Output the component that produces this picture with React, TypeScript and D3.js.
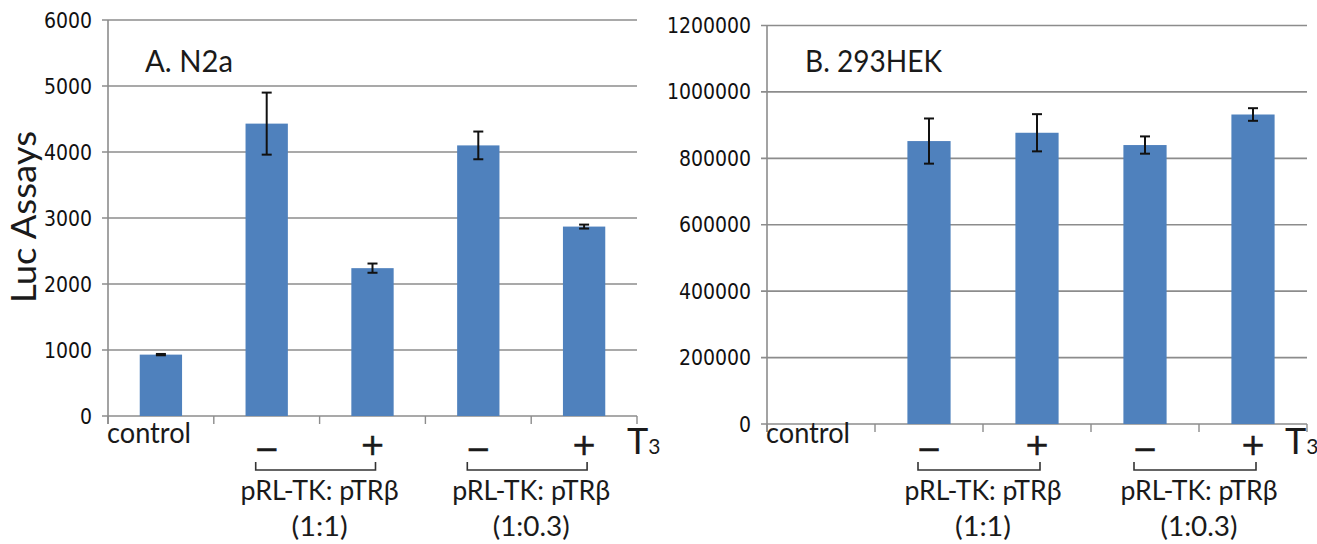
import React from "react";
import * as d3 from "d3";

// ---------- data ----------
const categories = ["control", "−", "+", "−", "+"];
const n2aValues = [930, 4430, 2240, 4100, 2870];
const n2aErrors = [10, 470, 70, 210, 30];
const n2aTicks = [0, 1000, 2000, 3000, 4000, 5000, 6000];

const hekValues = [0, 852000, 877000, 840000, 932000];
const hekErrors = [0, 68000, 56000, 26000, 19000];
const hekTicks = [0, 200000, 400000, 600000, 800000, 1000000, 1200000];

const groupLabels = ["pRL-TK: pTRβ", "pRL-TK: pTRβ"];
const ratioLabels = ["(1:1)", "(1:0.3)"];
const groupMembers = [[1, 2], [3, 4]];

const BAR = "#4f81bd";
const GRID = "#8c8c8c";
const TEXT = "#1a1a1a";
const FONT = "Lato, 'Open Sans', sans-serif";
const NARROW = "'Liberation Sans Narrow', 'DejaVu Sans Condensed', sans-serif";
const SIGN = "'DejaVu Sans', sans-serif";

type PanelProps = {
  title: string;
  values: number[];
  errors: number[];
  ticks: number[];
  x0: number;
  x1: number;
  y0: number;
  y1: number;
  titleX: number;
  titleLen: number;
  tX: number;
  groupTextLen: number[];
  ratioLen: number[];
};

function Panel(p: PanelProps) {
  const x = d3
    .scaleBand<string>()
    .domain(categories.map((c, i) => i + ""))
    .range([p.x0, p.x1])
    .paddingInner(0.6)
    .paddingOuter(0.3);
  const step = (p.x1 - p.x0) / categories.length;
  const y = d3
    .scaleLinear()
    .domain([0, p.ticks[p.ticks.length - 1]])
    .range([p.y0, p.y1]);
  const cx = (i: number) => (x(i + "") as number) + x.bandwidth() / 2;
  const boundaries = d3.range(categories.length + 1).map((i) => p.x0 + i * step);

  return (
    <g>
      {p.ticks.map((t) => (
        <line
          key={"g" + t}
          x1={p.x0 - 6}
          x2={p.x1}
          y1={y(t)}
          y2={y(t)}
          stroke={GRID}
          strokeWidth={1.6}
        />
      ))}
      <line x1={p.x0} x2={p.x0} y1={y(p.ticks[p.ticks.length - 1])} y2={p.y0 + 8} stroke={GRID} strokeWidth={1.6} />
      {boundaries.map((b, i) => (
        <line key={"b" + i} x1={b} x2={b} y1={p.y0} y2={p.y0 + 8} stroke={GRID} strokeWidth={1.4} />
      ))}
      {p.ticks.map((t) => (
        <text
          key={"t" + t}
          x={p.x0 - 16}
          y={y(t)}
          dy="0.36em"
          textAnchor="end"
          fontFamily={NARROW}
          fontSize={21}
          fill="#111"
        >
          {t}
        </text>
      ))}
      {p.values.map((v, i) =>
        v > 0 ? (
          <rect
            key={"r" + i}
            x={x(i + "")}
            y={y(v)}
            width={x.bandwidth()}
            height={p.y0 - y(v)}
            fill={BAR}
          />
        ) : null
      )}
      {p.values.map((v, i) =>
        p.errors[i] > 0 ? (
          <g key={"e" + i} stroke="#111" strokeWidth={2}>
            <line x1={cx(i)} x2={cx(i)} y1={y(v + p.errors[i])} y2={y(v - p.errors[i])} />
            <line x1={cx(i) - 5} x2={cx(i) + 5} y1={y(v + p.errors[i])} y2={y(v + p.errors[i])} />
            <line x1={cx(i) - 5} x2={cx(i) + 5} y1={y(v - p.errors[i])} y2={y(v - p.errors[i])} />
          </g>
        ) : null
      )}
      <text x={p.titleX} y={72} fontFamily={FONT} fontSize={31} fill={TEXT} textLength={p.titleLen} lengthAdjust="spacingAndGlyphs">
        {p.title}
      </text>
      <text x={p.x0 - 1} y={443} fontFamily={FONT} fontSize={28} fill={TEXT} textLength={84} lengthAdjust="spacingAndGlyphs">
        {categories[0]}
      </text>
      {categories.slice(1).map((c, k) => (
        <text
          key={"c" + k}
          x={cx(k + 1)}
          y={c === "+" ? 455 : 459}
          textAnchor="middle"
          fontFamily={SIGN}
          fontSize={30}
          fill={TEXT}
          stroke={TEXT}
          strokeWidth={0.6}
        >
          {c}
        </text>
      ))}
      <text x={p.tX} y={454} fill={TEXT} fontFamily={FONT}>
        <tspan fontSize={36}>T</tspan>
        <tspan fontSize={21}>3</tspan>
      </text>
      {groupMembers.map((g, k) => {
        const a = cx(g[0]) - 11;
        const b = cx(g[1]) + 3;
        const mid = (cx(g[0]) + cx(g[1])) / 2;
        return (
          <g key={"br" + k}>
            <path
              d={`M${a},462 L${a},470 L${b},470 L${b},462`}
              fill="none"
              stroke="#333"
              strokeWidth={1.6}
            />
            <text
              x={mid}
              y={500}
              textAnchor="middle"
              fontFamily={FONT}
              fontSize={27}
              fill={TEXT}
              textLength={p.groupTextLen[k]}
              lengthAdjust="spacingAndGlyphs"
            >
              {groupLabels[k]}
            </text>
            <text
              x={mid}
              y={536}
              textAnchor="middle"
              fontFamily={FONT}
              fontSize={27}
              fill={TEXT}
              textLength={p.ratioLen[k]}
              lengthAdjust="spacingAndGlyphs"
            >
              {ratioLabels[k]}
            </text>
          </g>
        );
      })}
    </g>
  );
}

export default function App() {
  return (
    <svg
      width={1317}
      height={544}
      style={{ position: "absolute", left: 0, top: 0, background: "#fff" }}
    >
      <rect width={1317} height={544} fill="#fff" />
      <Panel
        title="A. N2a"
        values={n2aValues}
        errors={n2aErrors}
        ticks={n2aTicks}
        x0={108}
        x1={637}
        y0={416}
        y1={20}
        titleX={145}
        titleLen={88}
        tX={627}
        groupTextLen={[158, 158]}
        ratioLen={[56, 77]}
      />
      <Panel
        title="B. 293HEK"
        values={hekValues}
        errors={hekErrors}
        ticks={hekTicks}
        x0={767}
        x1={1307}
        y0={424}
        y1={25.5}
        titleX={805}
        titleLen={137}
        tX={1285}
        groupTextLen={[157, 157]}
        ratioLen={[56, 77]}
      />
      <text
        transform="translate(36,217) rotate(-90)"
        textAnchor="middle"
        fontFamily={FONT}
        fontSize={34}
        fill={TEXT}
        textLength={172}
        lengthAdjust="spacingAndGlyphs"
      >
        Luc Assays
      </text>
    </svg>
  );
}
